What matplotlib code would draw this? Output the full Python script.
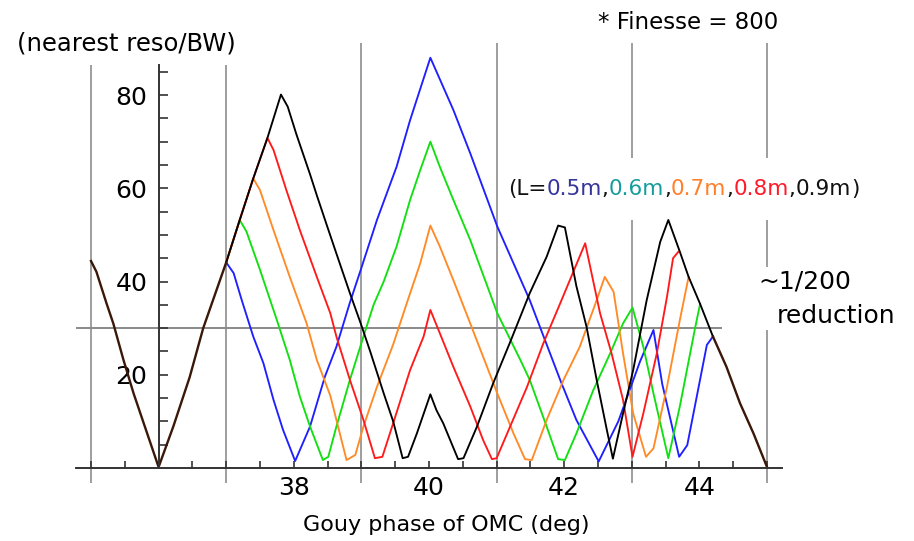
import numpy as np
import matplotlib.pyplot as plt
from matplotlib.ticker import FixedLocator, NullFormatter

plt.rcParams['font.family'] = ['DejaVu Sans']

# common part of all curves (they coincide here)
shared_left_x = [35.0, 35.08, 35.23, 35.33, 35.48, 35.63, 36.0, 36.22, 36.46, 36.66, 37.0]
shared_left_y = [44.4, 42.1, 35.3, 31.0, 23.2, 16.0, 0.2, 9.0, 19.5, 30.0, 44.1]
shared_right_x = [44.2, 44.4, 44.6, 44.8, 45.0]
shared_right_y = [28.2, 21.7, 13.9, 7.4, 0.2]

# L = 0.5 m
l05_x = [37.0, 37.11, 37.23, 37.40, 37.55, 37.70, 37.84, 38.02, 38.24, 38.46, 38.63, 38.83,
         38.99, 39.23, 39.52, 39.72, 40.02, 40.36, 40.61, 41.01, 41.49, 41.94, 42.18, 42.51,
         42.8, 43.12, 43.32, 43.45, 43.70, 43.82, 44.11, 44.2]
l05_y = [44.1, 41.8, 36.0, 28.2, 22.5, 14.6, 8.2, 1.5, 8.9, 19.6, 26.0, 35.5,
         42.5, 53.2, 64.6, 74.6, 88.0, 76.8, 67.5, 51.8, 36.0, 18.9, 10.3, 1.4,
         10.0, 22.8, 29.6, 18.0, 2.4, 4.9, 26.4, 28.2]

# L = 0.6 m
l06_x = [37.0, 37.20, 37.30, 37.50, 37.75, 37.94, 38.09, 38.24, 38.43, 38.51, 38.63, 38.83,
         39.03, 39.18, 39.33, 39.52, 39.72, 39.87, 40.02, 40.16, 40.36, 40.61, 41.01, 41.35,
         41.49, 41.74, 41.91, 42.01, 42.18, 42.43, 42.68, 42.87, 43.01, 43.17, 43.32, 43.54,
         43.71, 43.93, 44.01]
l06_y = [44.1, 53.2, 50.7, 42.5, 31.7, 23.2, 15.3, 8.9, 1.7, 2.4, 8.9, 18.9,
         28.2, 35.0, 40.0, 47.5, 57.5, 63.9, 70.0, 64.6, 57.5, 48.9, 33.2, 23.2,
         18.9, 8.9, 1.9, 1.7, 7.4, 16.7, 24.6, 31.0, 34.4, 26.0, 16.0, 2.1,
         13.2, 29.6, 35.2]

# L = 0.7 m
l07_x = [37.0, 37.20, 37.40, 37.50, 37.70, 37.94, 38.19, 38.34, 38.54, 38.78, 38.91, 39.03,
         39.23, 39.47, 39.67, 39.87, 40.02, 40.16, 40.36, 40.61, 41.01, 41.25, 41.42, 41.52,
         41.74, 41.99, 42.23, 42.48, 42.60, 42.73, 42.87, 43.02, 43.21, 43.32, 43.52, 43.71,
         43.84]
l07_y = [44.1, 53.2, 62.1, 59.6, 51.0, 41.0, 31.0, 23.2, 15.5, 1.7, 2.8, 8.9,
         17.4, 26.5, 35.3, 43.9, 52.0, 47.5, 40.3, 31.0, 16.0, 7.4, 1.9, 1.7,
         10.3, 18.9, 26.0, 36.0, 41.0, 37.8, 24.6, 11.7, 2.4, 4.2, 17.4, 31.7,
         41.0]

# L = 0.8 m
l08_x = [37.0, 37.20, 37.40, 37.61, 37.70, 37.89, 38.09, 38.34, 38.54, 38.63, 38.83, 39.03,
         39.20, 39.31, 39.47, 39.72, 39.92, 40.02, 40.16, 40.36, 40.61, 40.80, 40.93, 41.0,
         41.20, 41.45, 41.69, 41.94, 42.31, 42.53, 42.70, 42.87, 43.01, 43.17, 43.37, 43.52,
         43.61, 43.69]
l08_y = [44.1, 53.2, 62.1, 70.8, 68.2, 59.6, 51.0, 41.0, 33.2, 28.2, 18.9, 10.3,
         2.1, 2.4, 9.6, 21.0, 28.2, 33.9, 28.9, 21.7, 13.2, 6.0, 1.9, 2.1,
         8.9, 17.4, 26.7, 35.3, 48.2, 33.2, 24.6, 14.6, 2.4, 11.7, 24.6, 36.7,
         45.0, 46.4]

# L = 0.9 m
l09_x = [37.0, 37.20, 37.40, 37.61, 37.81, 37.91, 38.04, 38.24, 38.34, 38.49, 38.63, 38.83,
         38.99, 39.13, 39.33, 39.47, 39.61, 39.69, 39.82, 40.02, 40.11, 40.21, 40.43, 40.51,
         40.71, 40.95, 41.20, 41.49, 41.74, 41.91, 42.01, 42.18, 42.33, 42.48, 42.63, 42.72,
         42.87, 43.02, 43.22, 43.42, 43.54, 43.71, 43.84, 44.01, 44.2]
l09_y = [44.1, 53.2, 62.1, 70.8, 80.1, 77.5, 71.5, 63.0, 58.5, 52.0, 46.0, 37.5,
         31.0, 25.0, 16.0, 10.0, 2.1, 2.4, 7.4, 15.8, 12.4, 9.6, 1.9, 2.1,
         8.9, 18.2, 27.0, 37.5, 45.3, 52.0, 51.6, 39.0, 30.3, 18.9, 8.2, 2.0,
         11.7, 21.0, 36.0, 48.5, 53.2, 46.4, 41.0, 35.2, 28.2]

lengths = ["0.5m", "0.6m", "0.7m", "0.8m", "0.9m"]
xs = [l05_x, l06_x, l07_x, l08_x, l09_x]
ys = [l05_y, l06_y, l07_y, l08_y, l09_y]
line_colors = ["#1f1fff", "#10e010", "#ff8a26", "#ff1a1a", "#000000"]
label_colors = ["#35359a", "#159c9c", "#ff7f2a", "#ff1a2a", "#111111"]

x_labels = [38, 40, 42, 44]
y_labels = [20, 40, 60, 80]

fig = plt.figure(figsize=(9.14, 5.41), dpi=100)
ax = fig.add_axes([0, 0, 1, 1])
ax.set_xlim(33.654, 47.174)
ax.set_ylim(-15.66, 100.38)

# background reference lines
grid_segs = [(35, -3.3, 86.4), (37, -3.3, 86.4), (39, -3.3, 91.1), (41, -3.3, 91.1),
             (43, -3.3, 53.2), (43, 66.4, 91.1),
             (45, -3.3, 29.6), (45, 43.2, 53.2), (45, 66.4, 91.1)]
for gx, y0, y1 in grid_segs:
    ax.vlines(gx, y0, y1, color="#9e9e9e", lw=1.4, zorder=1)
ax.hlines(30, 34.78, 44.34, color="#8a8a8a", lw=1.4, zorder=1)

for x, y, c in zip(xs, ys, line_colors):
    ax.plot(x, y, color=c, lw=1.35, zorder=2.1)
ax.plot(shared_left_x, shared_left_y, color="#3a1808", lw=1.7, zorder=2.2)
ax.plot(shared_right_x, shared_right_y, color="#3a1808", lw=1.7, zorder=2.2)

# axes crossing at (36, 0)
for s in ["top", "right"]:
    ax.spines[s].set_visible(False)
ax.spines["left"].set_position(("data", 36))
ax.spines["bottom"].set_position(("data", 0))
ax.spines["left"].set_bounds(0, 86.4)
ax.spines["bottom"].set_bounds(34.78, 45.22)
for s in ["left", "bottom"]:
    ax.spines[s].set_color("#333333")
    ax.spines[s].set_linewidth(1.4)
    ax.spines[s].set_zorder(5)

ax.xaxis.set_major_locator(FixedLocator(x_labels))
ax.xaxis.set_minor_locator(FixedLocator(np.arange(35, 45.01, 0.5)))
ax.yaxis.set_major_locator(FixedLocator(y_labels))
ax.yaxis.set_minor_locator(FixedLocator(np.arange(5, 86, 5)))
ax.xaxis.set_minor_formatter(NullFormatter())
ax.yaxis.set_minor_formatter(NullFormatter())
ax.tick_params(axis="x", which="both", direction="in", length=5, width=1.2,
               color="#333333", labelsize=18, pad=6)
ax.tick_params(axis="y", which="both", direction="in", length=6.5, width=1.2,
               color="#333333", labelsize=18, pad=8)
for lbl in ax.get_yticklabels():
    lbl.set_bbox(dict(facecolor="white", edgecolor="none", pad=1))

ax.text(33.905, 91.15, "(nearest reso/BW)", fontsize=17.5, ha="left", va="center")
ax.text(42.5, 95.66, "* Finesse = 800", fontsize=16.5, ha="left", va="center")
ax.text(44.87, 40.0, "~1/200", fontsize=18, ha="left", va="center")
ax.text(45.15, 32.5, "reduction", fontsize=18, ha="left", va="center")
ax.text(40.25, -12.2, "Gouy phase of OMC (deg)", fontsize=16, ha="center", va="center")

# multi-coloured length legend
prev = ax.text(41.17, 59.8, "(L=", fontsize=15.5, ha="left", va="center", color="#111111")
pieces = []
for i, (lab, col) in enumerate(zip(lengths, label_colors)):
    pieces.append((lab, col))
    pieces.append(("," if i < len(lengths) - 1 else ")", "#111111"))
for s, col in pieces:
    prev = ax.annotate(s, xy=(1, 0), xycoords=prev, ha="left", va="bottom",
                       fontsize=15.5, color=col)

fig.savefig("out.png", dpi=100)
